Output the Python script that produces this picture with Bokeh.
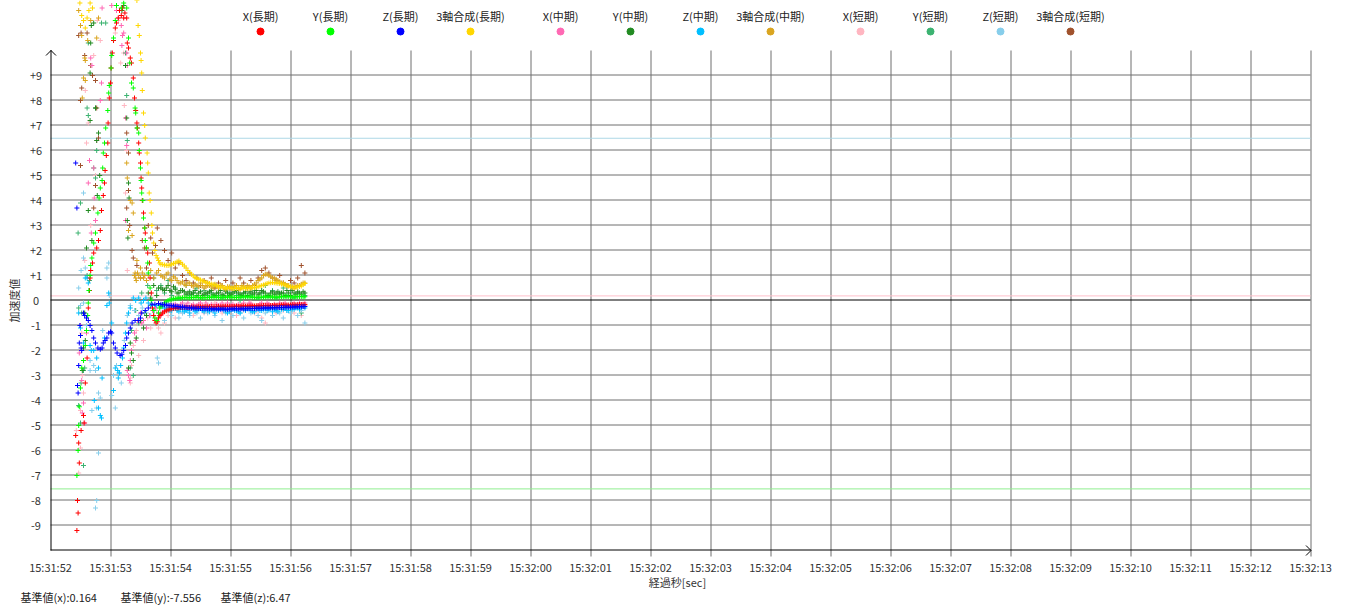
import math
from bokeh.plotting import figure
from bokeh.models import Range1d
from bokeh.core.properties import value
from bokeh.embed import file_html
from bokeh.resources import INLINE

FONT = "Noto Sans CJK JP"

# ---------------- texts / ticks ----------------
X_TICK_LABELS = ["15:31:52", "15:31:53", "15:31:54", "15:31:55", "15:31:56", "15:31:57",
                 "15:31:58", "15:31:59", "15:32:00", "15:32:01", "15:32:02", "15:32:03",
                 "15:32:04", "15:32:05", "15:32:06", "15:32:07", "15:32:08", "15:32:09",
                 "15:32:10", "15:32:11", "15:32:12", "15:32:13"]
Y_TICK_VALUES = [9, 8, 7, 6, 5, 4, 3, 2, 1, 0, -1, -2, -3, -4, -5, -6, -7, -8, -9]
Y_TICK_LABELS = ["+9", "+8", "+7", "+6", "+5", "+4", "+3", "+2", "+1", "0",
                 "-1", "-2", "-3", "-4", "-5", "-6", "-7", "-8", "-9"]
X_TITLE = "経過秒[sec]"
Y_TITLE = "加速度値"

REF_NAMES = ["基準値(x)", "基準値(y)", "基準値(z)"]
REF_VALUES = [0.164, -7.556, 6.47]
REF_COLORS = ["#FFC0CB", "#90EE90", "#ADD8E6"]

SERIES_LABELS = ["X(長期)", "Y(長期)", "Z(長期)", "3軸合成(長期)",
                 "X(中期)", "Y(中期)", "Z(中期)", "3軸合成(中期)",
                 "X(短期)", "Y(短期)", "Z(短期)", "3軸合成(短期)"]
SERIES_COLORS = ["#FF0000", "#00FF00", "#0000FF", "#FFD700",
                 "#FF69B4", "#228B22", "#00BFFF", "#DAA520",
                 "#FFB6C1", "#3CB371", "#87CEEB", "#A0522D"]

# ---------------- data (seconds after 15:31:52, acceleration) ----------------
T_LATE = [1.84, 1.90, 1.96, 2.02, 2.08, 2.14, 2.20, 2.26, 2.32, 2.38, 2.44, 2.50, 2.56, 2.62,
          2.68, 2.74, 2.80, 2.86, 2.92, 2.98, 3.04, 3.10, 3.16, 3.22, 3.28, 3.34, 3.40, 3.46,
          3.52, 3.58, 3.64, 3.70, 3.76, 3.82, 3.88, 3.94, 4.00, 4.06, 4.12, 4.18, 4.24]
T_LATE2 = [1.87, 1.93, 1.99, 2.05, 2.11, 2.17, 2.23, 2.29, 2.35, 2.41, 2.47, 2.53, 2.59, 2.65,
           2.71, 2.77, 2.83, 2.89, 2.95, 3.01, 3.07, 3.13, 3.19, 3.25, 3.31, 3.37, 3.43, 3.49,
           3.55, 3.61, 3.67, 3.73, 3.79, 3.85, 3.91, 3.97, 4.03, 4.09, 4.15, 4.21]

XL_EARLY = [(0.42, -5.4), (0.44, -9.2), (0.45, -8.0), (0.46, -8.5), (0.47, -5.7), (0.48, -6.5),
            (0.51, -5.2), (0.55, -4.6), (0.56, -4.9), (0.58, -3.3), (0.61, -2.3), (0.63, -0.3),
            (0.65, 0.4), (0.66, 0.9), (0.67, 1.2), (0.70, 1.5), (0.72, 1.9), (0.77, 2.1),
            (0.80, 2.4), (0.83, 2.8), (0.85, 3.6), (0.88, 4.2), (0.90, 4.7), (0.91, 5.2),
            (0.93, 5.8), (0.955, 6.3), (0.96, 7.1), (0.98, 8.1), (1.00, 8.7), (1.01, 9.3),
            (1.03, 9.9), (1.05, 10.4), (1.08, 10.9), (1.10, 11.1), (1.13, 11.3), (1.15, 11.6),
            (1.18, 11.4), (1.20, 11.7), (1.22, 11.3), (1.24, 11.5), (1.27, 11.3), (1.28, 10.3),
            (1.30, 10.1), (1.33, 9.7), (1.35, 9.5), (1.38, 8.9), (1.40, 8.1), (1.42, 7.6),
            (1.44, 7.1), (1.45, 6.9), (1.47, 6.3), (1.48, 5.9), (1.50, 5.5), (1.51, 4.9),
            (1.52, 4.5), (1.53, 4.0), (1.55, 3.5), (1.57, 2.9), (1.58, 2.7), (1.60, 2.1),
            (1.62, 1.9), (1.65, 1.5), (1.66, 0.9), (1.68, 0.3), (1.70, -0.3), (1.72, -0.6),
            (1.74, -0.8), (1.76, -0.9), (1.78, -0.85), (1.80, -0.7), (1.82, -0.6)]
XL_LATE = [-0.55, -0.45, -0.38, -0.33, -0.30, -0.29, -0.28, -0.27, -0.27, -0.26, -0.26, -0.25,
           -0.25, -0.25, -0.24, -0.25, -0.24, -0.24, -0.24, -0.23, -0.24, -0.23, -0.23, -0.22,
           -0.23, -0.22, -0.22, -0.21, -0.21, -0.20, -0.21, -0.20, -0.19, -0.19, -0.18, -0.19,
           -0.18, -0.17, -0.17, -0.16, -0.16]
XL_LATE2 = [-0.50, -0.41, -0.35, -0.31, -0.30, -0.28, -0.27, -0.28, -0.26, -0.27, -0.25, -0.26,
            -0.24, -0.25, -0.25, -0.24, -0.25, -0.23, -0.24, -0.24, -0.23, -0.24, -0.22, -0.23,
            -0.22, -0.23, -0.21, -0.22, -0.20, -0.21, -0.20, -0.19, -0.20, -0.18, -0.19, -0.18,
            -0.17, -0.18, -0.16, -0.17]

YL_EARLY = [(0.44, -7.0), (0.46, -6.0), (0.47, -5.0), (0.48, -4.25), (0.50, -3.5), (0.52, -2.7),
            (0.55, -2.4), (0.58, -1.8), (0.60, -1.2), (0.62, -0.6), (0.63, -0.1), (0.64, 0.4),
            (0.66, 1.0), (0.67, 1.4), (0.69, 1.7), (0.72, 2.3), (0.75, 2.7), (0.79, 3.5),
            (0.81, 4.1), (0.83, 4.5), (0.86, 4.8), (0.87, 5.3), (0.88, 5.9), (0.90, 6.3),
            (0.92, 6.9), (0.955, 7.6), (0.97, 8.3), (0.98, 8.6), (1.01, 9.3), (1.02, 9.8),
            (1.05, 10.5), (1.08, 11.2), (1.10, 11.8), (1.18, 11.7), (1.22, 11.9), (1.27, 11.7),
            (1.30, 10.5), (1.32, 9.5), (1.35, 8.7), (1.38, 8.5), (1.41, 7.7), (1.42, 7.5),
            (1.44, 6.9), (1.47, 6.7), (1.48, 6.0), (1.50, 5.3), (1.51, 4.8), (1.52, 4.3),
            (1.54, 4.0), (1.55, 3.3), (1.57, 2.9), (1.58, 2.4), (1.60, 2.1), (1.62, 1.5),
            (1.63, 1.1), (1.66, 0.5), (1.68, 0.0), (1.72, -0.4), (1.74, -0.7), (1.77, -0.8),
            (1.80, -0.5), (1.82, -0.3)]
YL_LATE = [-0.25, -0.10, 0.00, 0.05, 0.08, 0.10, 0.11, 0.12, 0.11, 0.12, 0.13, 0.12, 0.11, 0.12,
           0.13, 0.14, 0.13, 0.12, 0.13, 0.14, 0.13, 0.12, 0.13, 0.14, 0.15, 0.14, 0.13, 0.12,
           0.13, 0.14, 0.15, 0.14, 0.13, 0.14, 0.15, 0.16, 0.15, 0.14, 0.15, 0.16, 0.15]
YL_LATE2 = [-0.18, -0.05, 0.03, 0.07, 0.09, 0.10, 0.12, 0.11, 0.12, 0.13, 0.12, 0.11, 0.12, 0.13,
            0.14, 0.13, 0.12, 0.13, 0.14, 0.13, 0.12, 0.13, 0.14, 0.15, 0.14, 0.13, 0.12, 0.13,
            0.14, 0.15, 0.14, 0.13, 0.14, 0.15, 0.16, 0.15, 0.14, 0.15, 0.16, 0.15]

ZL_EARLY = [(0.42, 5.5), (0.44, 3.7), (0.45, -3.4), (0.46, -3.7), (0.47, -2.6), (0.48, -1.7),
            (0.49, -1.0), (0.50, -1.4), (0.51, -1.9), (0.52, -2.0), (0.55, -0.5), (0.57, -0.6),
            (0.60, -0.7), (0.63, -0.8), (0.66, -1.0), (0.69, -1.2), (0.72, -1.5), (0.75, -1.7),
            (0.79, -1.9), (0.83, -1.95), (0.86, -1.9), (0.88, -1.7), (0.91, -1.6), (0.94, -1.5),
            (0.97, -1.3), (1.00, -1.25), (1.02, -1.3), (1.05, -1.7), (1.08, -1.9), (1.11, -2.1),
            (1.16, -2.2), (1.19, -2.15), (1.22, -2.0), (1.25, -1.8), (1.27, -1.5), (1.30, -1.3),
            (1.33, -1.1), (1.36, -0.9), (1.41, -0.8), (1.47, -0.8), (1.50, -0.7), (1.52, -0.5),
            (1.58, -0.4), (1.63, -0.3), (1.69, -0.15), (1.74, -0.15), (1.80, -0.12)]
ZL_LATE = [-0.15, -0.17, -0.19, -0.21, -0.23, -0.25, -0.26, -0.28, -0.29, -0.30, -0.31, -0.32,
           -0.32, -0.33, -0.33, -0.34, -0.34, -0.34, -0.35, -0.34, -0.34, -0.33, -0.34, -0.33,
           -0.33, -0.32, -0.32, -0.31, -0.31, -0.30, -0.30, -0.29, -0.29, -0.28, -0.28, -0.27,
           -0.27, -0.26, -0.25, -0.25, -0.24]
ZL_LATE2 = [-0.16, -0.18, -0.20, -0.22, -0.24, -0.26, -0.27, -0.29, -0.30, -0.31, -0.32, -0.32,
            -0.33, -0.33, -0.34, -0.34, -0.35, -0.34, -0.35, -0.34, -0.33, -0.34, -0.33, -0.33,
            -0.32, -0.32, -0.31, -0.31, -0.30, -0.30, -0.29, -0.29, -0.28, -0.28, -0.27, -0.27,
            -0.26, -0.25, -0.25, -0.24]

GL_EARLY = [(0.49, 11.9), (0.52, 11.4), (0.55, 11.2), (0.58, 10.9), (0.61, 11.3), (0.64, 11.6),
            (0.66, 11.9), (0.70, 11.7), (1.44, 12.0), (1.46, 11.0), (1.48, 10.6), (1.50, 9.9),
            (1.51, 9.6), (1.52, 9.1), (1.53, 8.4), (1.55, 7.5), (1.57, 7.0), (1.58, 6.5),
            (1.61, 5.9), (1.62, 5.5), (1.63, 5.1), (1.645, 4.3), (1.66, 4.0), (1.68, 3.5),
            (1.69, 3.0), (1.70, 2.7), (1.72, 2.3), (1.74, 2.0), (1.76, 1.8), (1.78, 1.7),
            (1.80, 1.6), (1.82, 1.5)]
GL_LATE = [1.45, 1.42, 1.40, 1.45, 1.50, 1.58, 1.45, 1.30, 1.12, 0.98, 0.88, 0.82, 0.76, 0.70,
           0.66, 0.62, 0.56, 0.53, 0.50, 0.50, 0.48, 0.49, 0.48, 0.50, 0.48, 0.50, 0.52, 0.55,
           0.60, 0.65, 0.70, 0.72, 0.70, 0.68, 0.65, 0.60, 0.55, 0.52, 0.54, 0.58, 0.68]
GL_LATE2 = [1.44, 1.41, 1.42, 1.48, 1.55, 1.52, 1.38, 1.20, 1.05, 0.92, 0.85, 0.79, 0.73, 0.68,
            0.64, 0.59, 0.54, 0.51, 0.50, 0.49, 0.48, 0.49, 0.49, 0.49, 0.49, 0.51, 0.53, 0.58,
            0.62, 0.68, 0.71, 0.71, 0.69, 0.66, 0.62, 0.57, 0.53, 0.53, 0.56, 0.63]

XM_EARLY = [(0.48, -2.1), (0.50, -1.0), (0.52, -3.2), (0.53, -4.5), (0.55, -4.1), (0.57, -4.9),
            (0.60, -1.3), (0.63, 4.7), (0.65, 5.6), (0.67, 9.7), (0.68, 2.7), (0.69, 9.4),
            (0.72, 5.3), (0.73, 4.1), (0.75, 3.2), (0.77, 6.4), (0.80, 2.4), (0.83, 8.0),
            (0.85, 8.7), (0.86, 11.7), (1.02, 11.8), (1.10, 11.6), (1.13, 11.3), (1.18, 11.0),
            (1.19, 10.2), (1.20, 10.6), (1.22, 10.7), (1.25, 7.3), (1.27, 9.9), (1.28, 9.4),
            (1.25, 3.2), (1.27, 6.2), (1.28, -2.8), (1.30, -3.0), (1.32, -3.2), (1.33, -2.4),
            (1.35, -2.0), (1.40, -1.3), (1.42, -1.6), (1.45, -0.8), (1.50, -0.5), (1.52, -0.9),
            (1.55, -0.8), (1.60, -1.1), (1.65, -0.6), (1.70, -0.4), (1.75, -0.3), (1.80, -0.5)]
XM_LATE = [-0.60, -0.40, -0.30, -0.20, -0.15, -0.25, -0.10, -0.20, -0.30, -0.15, -0.20, -0.10,
           -0.25, -0.20, -0.15, -0.30, -0.20, -0.10, -0.20, -0.25, -0.15, -0.20, -0.30, -0.10,
           -0.20, -0.15, -0.25, -0.20, -0.10, -0.20, -0.15, -0.30, -0.20, -0.10, -0.15, -0.20,
           -0.25, -0.10, -0.15, -0.20, -0.10]
XM_LATE2 = [-0.50, -0.35, -0.25, -0.18, -0.20, -0.15, -0.25, -0.10, -0.20, -0.30, -0.15, -0.20,
            -0.10, -0.25, -0.30, -0.15, -0.20, -0.25, -0.10, -0.20, -0.30, -0.15, -0.20, -0.25,
            -0.10, -0.20, -0.30, -0.15, -0.25, -0.10, -0.20, -0.15, -0.30, -0.20, -0.10, -0.25,
            -0.15, -0.20, -0.10, -0.15]

YM_EARLY = [(0.53, -2.8), (0.55, -1.9), (0.57, -0.5), (0.58, -1.6), (0.60, 2.1), (0.63, 3.6),
            (0.66, 9.1), (0.66, 7.2), (0.67, 10.3), (0.68, 11.0), (0.69, 2.4), (0.72, 11.1),
            (0.75, 7.7), (0.77, 6.4), (0.78, 4.2), (0.80, 6.7), (0.82, 5.0), (1.19, 11.6),
            (1.22, 11.8), (1.25, 9.4), (1.27, 7.3), (1.28, 3.2), (1.29, 2.5), (1.30, 4.7),
            (1.31, 4.1), (1.30, -2.7), (1.33, -1.7), (1.35, -2.1), (1.38, -2.4), (1.43, -1.5),
            (1.50, -0.8), (1.55, -1.1), (1.60, -0.6), (1.63, 0.3), (1.67, 0.1), (1.72, 0.6),
            (1.77, 0.2), (1.80, 0.5)]
YM_LATE = [0.50, 0.40, 0.60, 0.35, 0.45, 0.30, 0.40, 0.25, 0.35, 0.30, 0.20, 0.35, 0.25, 0.30,
           0.40, 0.20, 0.30, 0.25, 0.35, 0.20, 0.30, 0.40, 0.25, 0.30, 0.20, 0.35, 0.30, 0.25,
           0.40, 0.30, 0.20, 0.35, 0.30, 0.25, 0.30, 0.40, 0.20, 0.30, 0.35, 0.25, 0.30]
YM_LATE2 = [0.45, 0.50, 0.40, 0.55, 0.30, 0.40, 0.35, 0.30, 0.25, 0.40, 0.30, 0.20, 0.30, 0.35,
            0.25, 0.30, 0.40, 0.20, 0.30, 0.25, 0.35, 0.30, 0.20, 0.35, 0.30, 0.25, 0.40, 0.30,
            0.35, 0.20, 0.30, 0.25, 0.35, 0.30, 0.20, 0.30, 0.40, 0.25, 0.30, 0.35]

ZM_EARLY = [(0.47, -0.5), (0.50, -1.1), (0.55, -1.7), (0.58, 0.9), (0.61, 0.9), (0.63, 0.7),
            (0.66, -1.8), (0.68, -2.0), (0.72, -2.0), (0.73, -4.0), (0.77, -2.3), (0.80, -2.7),
            (0.80, -4.3), (0.83, -4.6), (0.86, -3.1), (0.85, -4.7), (0.90, -1.5), (0.94, -0.2),
            (0.97, 0.3), (0.98, -0.1), (1.02, -0.9), (1.05, -3.6), (1.08, -2.7), (1.12, -2.8),
            (1.13, -3.1), (1.15, -2.9), (1.17, -2.6), (1.20, -2.3), (1.22, -1.9), (1.25, -1.3),
            (1.27, -0.9), (1.30, -0.5), (1.33, -0.3), (1.38, 0.1), (1.42, 0.0), (1.47, 0.1),
            (1.51, -0.1), (1.55, 0.0), (1.59, 0.1), (1.63, -0.1), (1.70, -0.2), (1.77, -0.2)]
ZM_LATE = [-0.20, -0.30, -0.35, -0.40, -0.30, -0.45, -0.35, -0.40, -0.50, -0.35, -0.40, -0.30,
           -0.45, -0.40, -0.35, -0.50, -0.40, -0.30, -0.40, -0.45, -0.35, -0.40, -0.50, -0.35,
           -0.30, -0.40, -0.45, -0.35, -0.40, -0.30, -0.35, -0.45, -0.40, -0.30, -0.35, -0.40,
           -0.30, -0.35, -0.30, -0.25, -0.30]
ZM_LATE2 = [-0.25, -0.35, -0.40, -0.30, -0.40, -0.35, -0.45, -0.40, -0.30, -0.45, -0.35, -0.40,
            -0.30, -0.45, -0.40, -0.35, -0.30, -0.40, -0.50, -0.35, -0.40, -0.45, -0.30, -0.40,
            -0.35, -0.45, -0.30, -0.40, -0.35, -0.40, -0.30, -0.35, -0.45, -0.35, -0.30, -0.40,
            -0.35, -0.30, -0.35, -0.25]

GM_EARLY = [(0.47, 11.6), (0.50, 11.0), (0.52, 10.6), (0.53, 8.1), (0.55, 8.9), (0.57, 9.7),
            (0.58, 8.8), (0.58, 9.6), (0.62, 10.4), (0.67, 11.2), (0.77, 10.5), (0.80, 11.3),
            (1.27, 5.5), (1.28, 4.9), (1.30, 2.8), (1.33, 4.0), (1.36, 3.9), (1.36, 2.6),
            (1.38, 3.5), (1.40, 1.0), (1.41, 1.1), (1.42, 0.9), (1.43, 0.8), (1.44, 1.6),
            (1.45, 1.1), (1.47, 1.0), (1.50, 1.3), (1.50, 0.9), (1.53, 1.1), (1.55, 0.9),
            (1.57, 1.0), (1.60, 0.8), (1.63, 1.0), (1.67, 1.2), (1.72, 0.9), (1.77, 1.1),
            (1.80, 1.2)]
GM_LATE = [1.00, 0.90, 1.10, 0.80, 0.90, 0.70, 0.75, 0.60, 0.70, 0.55, 0.60, 0.70, 0.50, 0.60,
           0.55, 0.65, 0.50, 0.60, 0.45, 0.55, 0.50, 0.60, 0.45, 0.55, 0.60, 0.50, 0.65, 0.80,
           0.90, 1.05, 1.00, 0.90, 0.85, 0.75, 0.70, 0.60, 0.55, 0.50, 0.60, 0.65, 0.70]
GM_LATE2 = [0.95, 1.05, 0.85, 0.95, 0.80, 0.70, 0.65, 0.70, 0.60, 0.65, 0.55, 0.60, 0.55, 0.60,
            0.50, 0.55, 0.60, 0.50, 0.55, 0.50, 0.55, 0.50, 0.60, 0.50, 0.55, 0.60, 0.70, 0.85,
            1.00, 1.05, 0.95, 0.90, 0.80, 0.70, 0.65, 0.60, 0.55, 0.55, 0.60, 0.70]

XS_EARLY = [(0.43, -5.2), (0.47, -6.9), (0.50, -5.9), (0.50, -4.4), (0.52, -1.3), (0.53, -3.0),
            (0.55, -3.7), (0.57, 1.6), (0.58, 8.4), (0.60, 6.3), (0.63, 7.1), (0.67, 3.0),
            (0.72, 9.8), (0.75, 5.0), (0.78, 11.2), (0.83, 10.4), (1.08, 10.7), (1.13, 11.2),
            (1.17, 9.5), (1.22, 9.9), (1.23, 7.8), (1.27, 6.0), (1.25, 4.3), (1.28, 1.2),
            (1.33, -3.1), (1.33, -3.3), (1.35, -2.6), (1.38, -1.8), (1.43, -1.2), (1.47, -2.2),
            (1.50, -0.9), (1.55, -1.6), (1.62, -0.7), (1.67, -1.1), (1.72, -0.6), (1.77, -0.4),
            (1.80, -1.1)]
XS_LATE = [-1.30, -0.90, -0.60, -0.40, -0.70, -0.30, -0.50, -0.20, -0.40, -0.60, -0.30, -0.20,
           -0.50, -0.30, -0.40, -0.10, -0.30, -0.50, -0.20, -0.40, -0.30, -0.60, -0.20, -0.40,
           -0.30, -0.10, -0.50, -0.40, -0.70, -0.90, -0.30, -0.20, -0.50, -0.30, -0.40, -0.20,
           -0.30, -0.50, -0.30, -0.60, -0.20]

YS_EARLY = [(0.46, 2.7), (0.47, -0.3), (0.47, -4.2), (0.50, 3.9), (0.50, -4.9), (0.51, -3.3),
            (0.52, -0.5), (0.55, -6.6), (0.55, -2.8), (0.57, -2.7), (0.61, 7.7), (0.61, 1.0),
            (0.63, 10.3), (0.63, 7.4), (0.65, 0.8), (0.72, 5.3), (0.75, 7.7), (0.75, 4.9),
            (0.77, 6.0), (0.85, 11.1), (0.92, 11.1), (1.25, 9.9), (1.27, 8.2), (1.28, 6.4),
            (1.33, -2.7), (1.35, -1.2), (1.38, -3.0), (1.42, -0.4), (1.47, -0.9), (1.52, 0.3),
            (1.57, -0.5), (1.62, 0.6), (1.67, -0.2), (1.72, 0.9), (1.77, 0.4)]
YS_LATE = [0.60, 0.30, 0.80, 0.20, 0.50, 0.10, 0.40, 0.60, 0.20, 0.30, 0.50, 0.10, 0.40, 0.20,
           0.30, 0.60, 0.20, 0.10, 0.40, 0.30, 0.50, 0.20, 0.00, 0.30, 0.50, 0.20, 0.40, 0.10,
           0.30, 0.60, 0.20, 0.40, 0.10, 0.30, 0.50, 0.20, 0.40, 0.10, 0.30, -0.50, 0.20]

ZS_EARLY = [(0.47, 0.5), (0.50, -0.2), (0.51, 1.2), (0.55, 1.7), (0.55, 4.3), (0.55, -0.1),
            (0.58, 1.3), (0.60, -1.0), (0.66, -2.4), (0.66, -2.8), (0.69, -4.4), (0.72, -2.6),
            (0.75, -2.8), (0.75, -8.3), (0.77, -8.0), (0.77, -4.3), (0.80, -3.7), (0.80, -6.1),
            (0.83, -3.9), (0.87, -1.2), (0.94, 1.3), (0.94, 0.9), (0.97, 1.5), (0.98, 0.2),
            (1.02, -3.8), (1.05, -3.0), (1.08, -4.3), (1.10, -2.6), (1.13, -2.9), (1.18, -3.3),
            (1.23, -1.6), (1.28, -0.6), (1.33, -0.2), (1.40, -0.4), (1.47, -0.6), (1.53, -0.3),
            (1.60, -0.5), (1.67, -0.6), (1.73, -0.4), (1.78, -2.3), (1.80, -2.5)]
ZS_LATE = [-0.50, -0.80, -0.40, -0.60, -0.30, -0.70, -0.50, -0.40, -0.60, -0.30, -0.50, -0.70,
           -0.40, -0.50, -0.30, -0.60, -0.40, -0.80, -0.50, -0.30, -0.60, -0.40, -0.50, -0.70,
           -0.30, -0.50, -0.40, -0.60, -0.80, -0.50, -0.40, -0.60, -0.30, -0.50, -0.70, -0.40,
           -0.50, -0.30, -0.60, -0.40, -0.90]

GS_EARLY = [(0.47, 10.6), (0.50, 8.0), (0.50, 5.4), (0.51, 10.7), (0.52, 8.5), (0.57, 9.8),
            (0.61, 10.7), (0.67, 9.4), (0.70, 9.0), (0.72, 3.7), (0.75, 8.8), (0.75, 4.6),
            (0.77, 7.7), (0.80, 6.5), (1.27, 6.7), (1.30, 5.9), (1.30, 4.4), (1.27, 3.7),
            (1.32, 3.0), (1.36, 2.0), (1.38, 1.7), (1.44, 1.4), (1.50, 0.9), (1.53, 2.4),
            (1.57, 2.1), (1.60, 1.3), (1.63, 3.0), (1.67, 2.5), (1.70, 1.9), (1.75, 2.2),
            (1.78, 2.9)]
GS_LATE = [2.40, 2.00, 1.60, 1.90, 1.30, 1.50, 1.00, 0.80, 1.10, 0.70, 0.90, 0.60, 0.80, 0.70,
           0.90, 0.50, 0.70, 0.60, 0.80, 0.50, 0.70, 0.60, 0.90, 0.70, 0.50, 0.80, 0.60, 0.90,
           1.20, 1.30, 1.10, 0.90, 0.80, 1.00, 0.70, 0.60, 0.80, 0.70, 0.90, 1.40, 1.10]

SERIES_EARLY = [XL_EARLY, YL_EARLY, ZL_EARLY, GL_EARLY, XM_EARLY, YM_EARLY, ZM_EARLY, GM_EARLY,
                XS_EARLY, YS_EARLY, ZS_EARLY, GS_EARLY]
SERIES_LATE = [XL_LATE, YL_LATE, ZL_LATE, GL_LATE, XM_LATE, YM_LATE, ZM_LATE, GM_LATE,
               XS_LATE, YS_LATE, ZS_LATE, GS_LATE]
SERIES_LATE2 = [XL_LATE2, YL_LATE2, ZL_LATE2, GL_LATE2, XM_LATE2, YM_LATE2, ZM_LATE2, GM_LATE2,
                [], [], [], []]
for lst in SERIES_LATE:
    assert len(lst) == len(T_LATE), len(lst)
for lst in SERIES_LATE2:
    assert len(lst) in (0, len(T_LATE2)), len(lst)

# ---------------- layout (screen geometry) ----------------
W, H = 1350, 610
PAGE = 0                        # figure lands at the page's top-left corner
ORIG_X, ORIG_Y = 50, 300        # page pixel of (15:31:52, 0)
PX_SEC, PX_UNIT = 60, 25


def dx(px):
    return (px - ORIG_X) / PX_SEC


def dy(py):
    return (ORIG_Y - py) / PX_UNIT


HX = 0.5 / PX_SEC   # half pixel offsets for crisp 1px lines
HY = 0.5 / PX_UNIT

p = figure(width=W, height=H, output_backend="svg", toolbar_location=None,
           x_range=Range1d(dx(PAGE), dx(PAGE + W)), y_range=Range1d(dy(PAGE + H), dy(PAGE)),
           x_axis_location=None, y_axis_location=None, min_border=0)
p.grid.visible = False
p.outline_line_color = None
p.background_fill_color = "white"
p.border_fill_color = "white"

n_sec = len(X_TICK_LABELS) - 1
top_v = dy(50)
GRID = "#6e6e6e"

# horizontal grid lines
hv = [v for v in Y_TICK_VALUES if v != 0]
p.segment(x0=[0] * len(hv), x1=[n_sec] * len(hv), y0=[v + HY for v in hv], y1=[v + HY for v in hv],
          line_color=GRID, line_width=1)
# vertical grid lines (with ticks below the axis)
vx = list(range(1, n_sec + 1))
p.segment(x0=[x + HX for x in vx], x1=[x + HX for x in vx], y0=[dy(556)] * len(vx), y1=[top_v] * len(vx),
          line_color=GRID, line_width=1)

# reference lines
for rv, rc in zip(REF_VALUES, REF_COLORS):
    p.segment(x0=[0], x1=[n_sec], y0=[rv + HY], y1=[rv + HY], line_color=rc, line_width=1)

# zero line
p.segment(x0=[0], x1=[n_sec], y0=[HY], y1=[HY], line_color="black", line_width=1)

# data: short, mid, long (long on top)
order = [8, 9, 10, 11, 4, 5, 6, 7, 0, 1, 2, 3]
for i in order:
    ts = [a for a, b in SERIES_EARLY[i]] + T_LATE
    vs = [b for a, b in SERIES_EARLY[i]] + SERIES_LATE[i]
    if SERIES_LATE2[i]:
        ts = ts + T_LATE2
        vs = vs + SERIES_LATE2[i]
    p.scatter(ts, vs, marker="cross", size=5, line_color=SERIES_COLORS[i], line_width=1)

# axes with arrows
p.segment(x0=[HX], x1=[HX], y0=[dy(550)], y1=[dy(49.5)], line_color="black", line_width=1)
p.segment(x0=[0], x1=[dx(1310.5)], y0=[dy(550) + HY], y1=[dy(550) + HY], line_color="black", line_width=1)
p.line(x=[dx(45.5), dx(50.5), dx(55.5)], y=[dy(55), dy(50), dy(55)], line_color="black", line_width=1)
p.line(x=[dx(1305.5), dx(1310.5), dx(1305.5)], y=[dy(545), dy(550), dy(555)], line_color="black", line_width=1)

txt = dict(text_font=value(FONT), text_font_size="11px", text_baseline="middle")

# x tick labels
p.text(x=list(range(len(X_TICK_LABELS))), y=[dy(566)] * len(X_TICK_LABELS), text=X_TICK_LABELS,
       text_align="center", text_color="#333333", **txt)
# y tick labels
p.text(x=[dx(35.5)] * len(Y_TICK_VALUES), y=Y_TICK_VALUES, text=Y_TICK_LABELS,
       text_align="center", text_color="#333333", **txt)
# titles
p.text(x=[dx(677)], y=[dy(581)], text=[X_TITLE], text_align="center", text_color="#333333", **txt)
p.text(x=[dx(13)], y=[0], text=[Y_TITLE], angle=math.pi / 2, text_align="center",
       text_color="#333333", **txt)
# reference values text
ref_txt = [f"{n}:{v}" for n, v in zip(REF_NAMES, REF_VALUES)]
p.text(x=[dx(20), dx(120), dx(220)], y=[dy(596)] * 3, text=ref_txt, text_align="left",
       text_color="#222222", **txt)

# legend (label above a dot)
LEG_PX = [260, 330, 400, 470, 560, 630, 700, 770, 860, 930, 1000, 1070]
p.text(x=[dx(x) for x in LEG_PX], y=[dy(15)] * 12, text=SERIES_LABELS, text_align="center",
       text_color="#222222", **txt)
p.scatter(x=[dx(x) for x in LEG_PX], y=[dy(31)] * 12, marker="circle", size=7,
          fill_color=SERIES_COLORS, line_color=SERIES_COLORS)

open("out.html", "w").write(file_html(p, INLINE))
